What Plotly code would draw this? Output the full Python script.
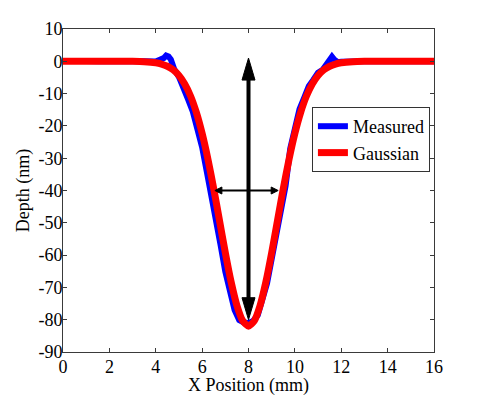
import plotly.graph_objects as go

# ---------------- data ----------------
gauss_x = [0, 1, 2, 3, 3.5, 4.0, 4.25, 4.5, 4.75, 5.0, 5.25, 5.5, 5.75, 6.0, 6.25, 6.5,
           6.75, 7.0, 7.25, 7.5, 7.75, 8.0, 8.25, 8.5, 8.75, 9.0, 9.25, 9.5, 9.75,
           10.0, 10.25, 10.5, 10.75, 11.0, 11.25, 11.5, 11.75, 12.0, 12.5, 13, 14, 15, 16]
gauss_y = [0, 0, 0, -0.02, -0.11, -0.45, -0.85, -1.53, -2.64, -4.39, -7.01, -10.74, -15.81,
           -22.33, -30.29, -39.45, -49.34, -59.24, -68.29, -75.60, -80.35, -82.0, -80.35,
           -75.60, -68.29, -59.24, -49.34, -39.45, -30.29, -22.33, -15.81, -10.74, -7.01,
           -4.39, -2.64, -1.53, -0.85, -0.45, -0.11, -0.02, 0, 0, 0]

meas_x = [0, 0.5, 1, 1.5, 2, 2.5, 3, 3.5, 4.0, 4.2, 4.35, 4.45, 4.55, 4.65, 4.8, 5.0,
          5.2, 5.4, 5.6, 5.8, 6.0, 6.2, 6.4, 6.6, 6.8, 7.0, 7.2, 7.4, 7.6, 7.8, 8.0,
          8.2, 8.4, 8.6, 8.8, 9.0, 9.2, 9.4, 9.6, 9.8, 10.0, 10.2, 10.4, 10.6, 10.8,
          11.0, 11.2, 11.4, 11.5, 11.6, 11.7, 11.85, 12.0, 12.5, 13, 13.5, 14, 14.5,
          15, 15.5, 16]
meas_y = [0.1, -0.1, 0.1, 0.0, 0.1, -0.1, 0.1, 0.0, -0.1, 0.3, 1.0, 1.8, 1.5, 0.6, -2.5, -4.8,
          -8.0, -11.9, -15.6, -21.2, -26.6, -34.1, -41.0, -49.6, -57.0, -65.1, -71.2,
          -77.0, -80.1, -80.9, -81.0, -80.4, -78.6, -73.9, -68.7, -61.2, -54.2, -45.7,
          -38.5, -27.0, -20.4, -14.8, -11.3, -7.7, -5.7, -3.5, -2.6, -0.9, 0.6, 1.4, 0.5,
          -0.3, -0.1, 0.1, -0.1, 0.1, 0.0, -0.1, 0.1, -0.1, 0.0]

x_ticks = [0, 2, 4, 6, 8, 10, 12, 14, 16]
y_ticks = [-90, -80, -70, -60, -50, -40, -30, -20, -10, 0, 10]
y_tick_labels = ["-90", "-80", "-70", "-60", "-50", "-40", "-30", "-20", "-10", "0", "10"]

# arrows: vertical depth arrow and horizontal width arrow (data coordinates)
depth_arrow_x = 8.0
depth_arrow_y = [1.0, -80.0]
width_arrow_y = -40.0
width_arrow_x = [6.55, 9.28]

FONT = "Liberation Serif"
AXIS_COLOR = "#3a3a3a"

fig = go.Figure()
fig.add_trace(go.Scatter(x=meas_x, y=meas_y, mode="lines", name="Measured",
                         line=dict(color="#0000FF", width=6)))
fig.add_trace(go.Scatter(x=gauss_x, y=gauss_y, mode="lines", name="Gaussian",
                         line=dict(color="#FF0000", width=7, shape="spline", smoothing=0.6)))

shapes = []
# vertical shaft
shapes.append(dict(type="line", xref="x", yref="y", x0=depth_arrow_x, x1=depth_arrow_x,
                   y0=depth_arrow_y[0] - 3, y1=depth_arrow_y[1] + 3,
                   line=dict(color="black", width=4)))
# vertical heads (pixel-sized paths anchored at tips)
shapes.append(dict(type="path", xref="x", yref="y", xsizemode="pixel", ysizemode="pixel",
                   xanchor=depth_arrow_x, yanchor=depth_arrow_y[0],
                   path="M0,0 L-6.5,-22 L6.5,-22 Z", fillcolor="black",
                   line=dict(color="black", width=1)))
shapes.append(dict(type="path", xref="x", yref="y", xsizemode="pixel", ysizemode="pixel",
                   xanchor=depth_arrow_x, yanchor=depth_arrow_y[1],
                   path="M0,0 L-6.5,22 L6.5,22 Z", fillcolor="black",
                   line=dict(color="black", width=1)))
# horizontal shaft
shapes.append(dict(type="line", xref="x", yref="y", x0=width_arrow_x[0] + 0.1,
                   x1=width_arrow_x[1] - 0.1, y0=width_arrow_y, y1=width_arrow_y,
                   line=dict(color="black", width=2)))
shapes.append(dict(type="path", xref="x", yref="y", xsizemode="pixel", ysizemode="pixel",
                   xanchor=width_arrow_x[0], yanchor=width_arrow_y,
                   path="M0,0 L7,-3.5 L7,3.5 Z", fillcolor="black",
                   line=dict(color="black", width=1)))
shapes.append(dict(type="path", xref="x", yref="y", xsizemode="pixel", ysizemode="pixel",
                   xanchor=width_arrow_x[1], yanchor=width_arrow_y,
                   path="M0,0 L-7,-3.5 L-7,3.5 Z", fillcolor="black",
                   line=dict(color="black", width=1)))

axis_common = dict(showgrid=False, zeroline=False, showline=True, linecolor=AXIS_COLOR,
                   linewidth=1, mirror="ticks", ticks="inside", ticklen=4,
                   tickcolor=AXIS_COLOR, tickwidth=1, automargin=False,
                   tickfont=dict(family=FONT, size=18, color="black"))

# the page body has an 8px default margin, so the figure is 8px smaller than the window
fig.update_layout(
    width=472, height=388,
    margin=dict(l=55, r=46, t=21, b=44),
    paper_bgcolor="white", plot_bgcolor="white",
    font=dict(family=FONT, size=18, color="black"),
    shapes=shapes,
    xaxis=dict(range=[0, 16], tickvals=x_ticks, ticklabelstandoff=-2,
               title=dict(text="X Position (mm)", font=dict(family=FONT, size=18), standoff=12),
               **axis_common),
    yaxis=dict(range=[-90, 10], tickvals=y_ticks, ticktext=y_tick_labels,
               ticklabelstandoff=-4,
               title=dict(text="Depth (nm)", font=dict(family=FONT, size=18), standoff=4),
               **axis_common),
    legend=dict(x=0.989, y=0.7585, xanchor="right", yanchor="top",
                bgcolor="white", bordercolor="#333333", borderwidth=1,
                font=dict(family=FONT, size=18, color="black"), tracegroupgap=0),
    showlegend=True,
)

fig.write_html("out.html")
